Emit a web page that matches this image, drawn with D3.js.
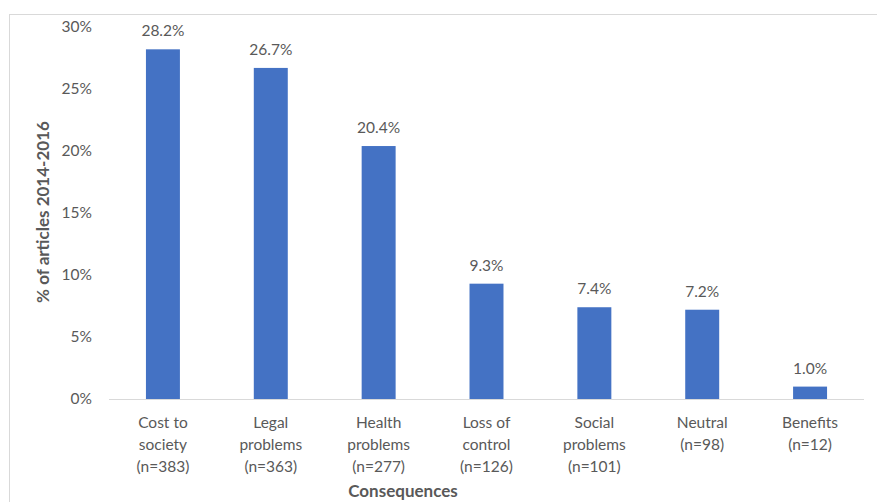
<!DOCTYPE html>
<html>
<head>
<meta charset="utf-8">
<script src="https://cdn.jsdelivr.net/npm/d3@7/dist/d3.min.js"></script>
<style>
  html, body { margin: 0; padding: 0; background: #fff; }
  svg { display: block; font-family: Lato, "Open Sans", sans-serif; }
</style>
</head>
<body>
<svg id="chart" width="877" height="502"></svg>
<script>
// Consequences mentioned in articles, 2014-2016
const categories = [
  ["Cost to", "society", "(n=383)"],
  ["Legal", "problems", "(n=363)"],
  ["Health", "problems", "(n=277)"],
  ["Loss of", "control", "(n=126)"],
  ["Social", "problems", "(n=101)"],
  ["Neutral", "(n=98)"],
  ["Benefits", "(n=12)"]
];
const values = [28.2, 26.7, 20.4, 9.3, 7.4, 7.2, 1.0];
const yTicks = [0, 5, 10, 15, 20, 25, 30];
const yTitle = "% of articles 2014-2016";
const xTitle = "Consequences";

const svg = d3.select("#chart");
const textColor = "#595959";
const labelSize = "15.5px";

// chart area frame
svg.append("rect")
  .attr("x", 9.5).attr("y", 14.5)
  .attr("width", 900).attr("height", 600)
  .attr("fill", "none").attr("stroke", "#d9d9d9").attr("stroke-width", 1);

const plot = { left: 109, right: 864, top: 27, bottom: 399 };

const x = d3.scaleBand()
  .domain(d3.range(categories.length))
  .range([plot.left, plot.right])
  .paddingInner(0.685).paddingOuter(0.3425);

const y = d3.scaleLinear().domain([0, 30]).range([plot.bottom, plot.top]);

// y axis labels (no line, no ticks)
const yAxis = d3.axisLeft(y).tickValues(yTicks).tickFormat(d => d + "%").tickSize(0).tickPadding(0);
const yg = svg.append("g").attr("transform", `translate(${plot.left - 17},0)`).call(yAxis);
yg.select(".domain").remove();
yg.selectAll("text").attr("fill", textColor).style("font-size", labelSize)
  .style("font-family", "Lato, 'Open Sans', sans-serif");

// baseline
svg.append("line")
  .attr("x1", plot.left).attr("x2", plot.right)
  .attr("y1", plot.bottom + 0.5).attr("y2", plot.bottom + 0.5)
  .attr("stroke", "#d9d9d9").attr("stroke-width", 1);

// bars
svg.append("g").selectAll("rect").data(values).join("rect")
  .attr("x", (d, i) => x(i))
  .attr("y", d => y(d))
  .attr("width", x.bandwidth())
  .attr("height", d => y(0) - y(d))
  .attr("fill", "#4472c4");

// value labels
svg.append("g").selectAll("text").data(values).join("text")
  .attr("x", (d, i) => x(i) + x.bandwidth() / 2)
  .attr("y", d => y(d) - 13)
  .attr("text-anchor", "middle")
  .attr("fill", textColor)
  .style("font-size", labelSize)
  .text(d => d.toFixed(1) + "%");

// category labels
const cat = svg.append("g").selectAll("text").data(categories).join("text")
  .attr("x", (d, i) => x(i) + x.bandwidth() / 2)
  .attr("y", 428)
  .attr("text-anchor", "middle")
  .attr("fill", textColor)
  .style("font-size", labelSize);
cat.selectAll("tspan").data(d => d).join("tspan")
  .attr("x", function () { return d3.select(this.parentNode).attr("x"); })
  .attr("dy", (d, i) => i === 0 ? 0 : 22)
  .text(d => d);

// axis titles
svg.append("text")
  .attr("transform", "translate(49,212) rotate(-90)")
  .attr("text-anchor", "middle")
  .attr("fill", textColor)
  .style("font-size", "17px").style("font-weight", "bold")
  .text(yTitle);

svg.append("text")
  .attr("x", 403).attr("y", 497)
  .attr("text-anchor", "middle")
  .attr("fill", textColor)
  .style("font-size", "17px").style("font-weight", "bold")
  .text(xTitle);
</script>
</body>
</html>
